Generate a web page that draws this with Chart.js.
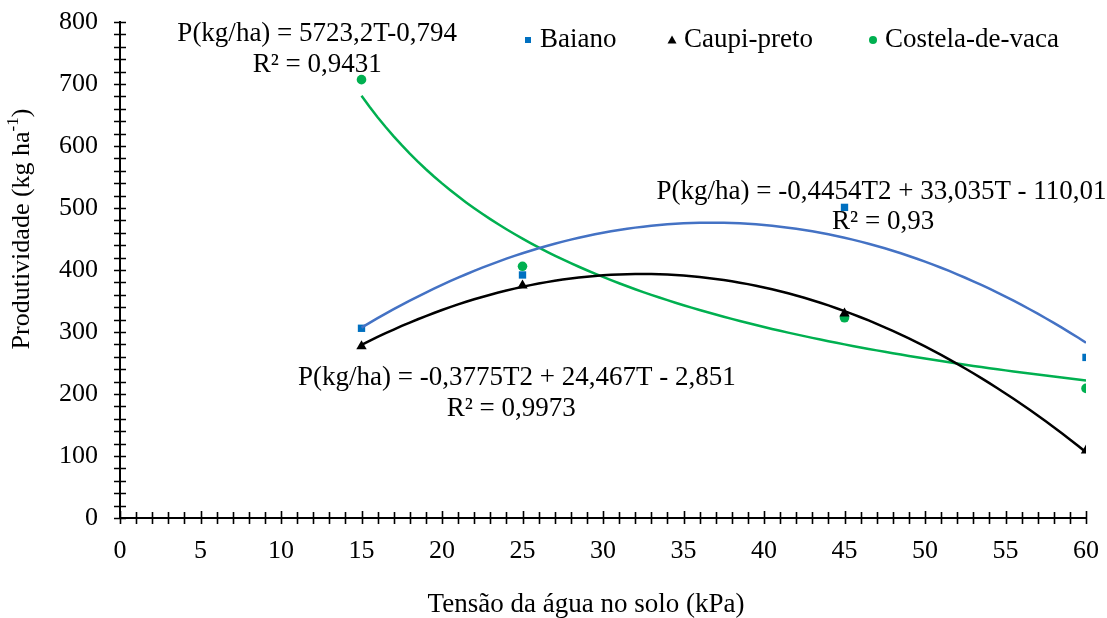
<!DOCTYPE html>
<html>
<head>
<meta charset="utf-8">
<script src="https://cdn.jsdelivr.net/npm/chart.js@4.4.1/dist/chart.umd.min.js"></script>
<style>
  html, body { margin: 0; padding: 0; background: #fff; }
</style>
</head>
<body>
<canvas id="chart" width="1107" height="618"></canvas>
<script>
// values
const tensions = [15, 25, 45, 60];
const baiano = [306, 392, 501, 259];
const caupiPreto = [277, 375, 330, 109];
const costelaDeVaca = [707, 406, 323, 209];

const xTickValues = [0, 5, 10, 15, 20, 25, 30, 35, 40, 45, 50, 55, 60];
const yTickValues = [0, 100, 200, 300, 400, 500, 600, 700, 800];

// trend lines (a*T^2 + b*T + c, and a*T^b for the power fit), as drawn
const trendBaiano = [-0.358, 26.31, -7.0];
const trendCaupi = [-0.3775, 24.467, -2.851];
const trendCostela = [6091, -0.809];

const FONT = "'Liberation Serif', 'Times New Roman', serif";
const BLUE = '#0070C0', BLUE_LINE = '#4472C4', GREEN = '#00B050', BLACK = '#000000';

// equation labels, anchored in data units (T, P)
const eqLabels = [
  { t: 12.25, p: 781, text: 'P(kg/ha) = 5723,2T-0,794' },
  { t: 12.25, p: 731, text: 'R² = 0,9431' },
  { t: 47.3, p: 526, text: 'P(kg/ha) = -0,4454T2 + 33,035T - 110,01' },
  { t: 47.4, p: 477, text: 'R² = 0,93' },
  { t: 24.65, p: 226, text: 'P(kg/ha) = -0,3775T2 + 24,467T - 2,851' },
  { t: 24.3, p: 176, text: 'R² = 0,9973' }
];

function points(values) {
  return tensions.map((t, i) => ({ x: t, y: values[i] }));
}

function trendPoints(fn) {
  const out = [];
  for (let t = 15; t <= 60.001; t += 0.5) out.push({ x: t, y: fn(t) });
  return out;
}

const quad = c => t => c[0] * t * t + c[1] * t + c[2];
const power = c => t => c[0] * Math.pow(t, c[1]);

const axisPlugin = {
  id: 'axisExtras',
  afterDraw(chart) {
    const ctx = chart.ctx;
    const x = chart.scales.x, y = chart.scales.y;
    const x0 = x.getPixelForValue(0), y0 = y.getPixelForValue(0);
    ctx.save();
    ctx.strokeStyle = BLACK;
    ctx.lineWidth = 1.6;
    ctx.beginPath();
    for (let v = 0; v <= 800; v += 20) {
      const py = Math.round(y.getPixelForValue(v)) + 0.5;
      ctx.moveTo(x0 - 6, py);
      ctx.lineTo(x0 + 6, py);
    }
    for (let v = 0; v <= 60; v += 1) {
      const px = Math.round(x.getPixelForValue(v)) + 0.5;
      const up = v % 5 === 0 ? 7 : 6;
      ctx.moveTo(px, y0 - up);
      ctx.lineTo(px, y0 + 6);
    }
    ctx.stroke();

    // equations
    ctx.fillStyle = BLACK;
    ctx.font = '27px ' + FONT;
    ctx.textAlign = 'center';
    ctx.textBaseline = 'middle';
    eqLabels.forEach(l => {
      ctx.fillText(l.text, x.getPixelForValue(l.t), y.getPixelForValue(l.p));
    });

    // legend
    const legend = [
      { label: 'Baiano', color: BLUE, shape: 'rect', mx: 528 },
      { label: 'Caupi-preto', color: BLACK, shape: 'triangle', mx: 672 },
      { label: 'Costela-de-vaca', color: GREEN, shape: 'circle', mx: 873 }
    ];
    const ly = 40;
    ctx.textAlign = 'left';
    legend.forEach(it => {
      ctx.fillStyle = it.color;
      ctx.beginPath();
      if (it.shape === 'rect') {
        ctx.rect(it.mx - 3, ly - 3, 6, 6);
      } else if (it.shape === 'triangle') {
        ctx.moveTo(it.mx, ly - 4.5);
        ctx.lineTo(it.mx + 4.5, ly + 3.5);
        ctx.lineTo(it.mx - 4.5, ly + 3.5);
        ctx.closePath();
      } else {
        ctx.arc(it.mx, ly, 4, 0, Math.PI * 2);
      }
      ctx.fill();
      ctx.fillStyle = BLACK;
      ctx.fillText(it.label, it.mx + 12, ly);
    });

    // x title
    ctx.textAlign = 'center';
    ctx.fillText('Tensão da água no solo (kPa)', 586, 605);

    // y title with superscript
    ctx.translate(22, 229);
    ctx.rotate(-Math.PI / 2);
    const main = 'Produtividade (kg ha';
    ctx.font = '26px ' + FONT;
    const wMain = ctx.measureText(main).width;
    ctx.font = '17px ' + FONT;
    const wSup = ctx.measureText('-1').width;
    ctx.font = '26px ' + FONT;
    const wEnd = ctx.measureText(')').width;
    let sx = -(wMain + wSup + wEnd) / 2;
    ctx.textAlign = 'left';
    ctx.fillText(main, sx, 0);
    sx += wMain;
    ctx.font = '17px ' + FONT;
    ctx.fillText('-1', sx, -8);
    sx += wSup;
    ctx.font = '26px ' + FONT;
    ctx.fillText(')', sx, 0);
    ctx.restore();
  }
};

const ctx = document.getElementById('chart').getContext('2d');
const chart = new Chart(ctx, {
  type: 'scatter',
  data: {
    datasets: [
      { label: 'Baiano trend', data: trendPoints(quad(trendBaiano)), showLine: true,
        borderColor: BLUE_LINE, borderWidth: 2.5, pointRadius: 0, fill: false },
      { label: 'Caupi-preto trend', data: trendPoints(quad(trendCaupi)), showLine: true,
        borderColor: BLACK, borderWidth: 2.5, pointRadius: 0, fill: false },
      { label: 'Costela-de-vaca trend', data: trendPoints(power(trendCostela)), showLine: true,
        borderColor: GREEN, borderWidth: 2.5, pointRadius: 0, fill: false },
      { label: 'Baiano', data: points(baiano), pointStyle: 'rect', pointRadius: 5.2,
        backgroundColor: BLUE, borderColor: BLUE, borderWidth: 0 },
      { label: 'Caupi-preto', data: points(caupiPreto), pointStyle: 'triangle', pointRadius: 6,
        backgroundColor: BLACK, borderColor: BLACK, borderWidth: 0 },
      { label: 'Costela-de-vaca', data: points(costelaDeVaca), pointStyle: 'circle', pointRadius: 4.8,
        backgroundColor: GREEN, borderColor: GREEN, borderWidth: 0 }
    ]
  },
  options: {
    responsive: false,
    animation: false,
    devicePixelRatio: 1,
    layout: { padding: { left: 0, right: 21, top: 22, bottom: 0 } },
    plugins: { legend: { display: false }, tooltip: { enabled: false } },
    scales: {
      x: {
        type: 'linear', min: 0, max: 60,
        afterBuildTicks: s => { s.ticks = xTickValues.map(v => ({ value: v })); },
        afterFit: s => { s.height = 100; s.paddingLeft = 0; s.paddingRight = 0; },
        ticks: { color: BLACK, font: { family: FONT, size: 26 }, padding: 18, maxRotation: 0 },
        grid: { display: false, drawTicks: false },
        border: { display: true, color: BLACK, width: 2 }
      },
      y: {
        type: 'linear', min: 0, max: 800,
        afterBuildTicks: s => { s.ticks = yTickValues.map(v => ({ value: v })); },
        afterFit: s => { s.width = 120; s.paddingTop = 0; s.paddingBottom = 0; },
        ticks: { color: BLACK, font: { family: FONT, size: 26 }, padding: 22 },
        grid: { display: false, drawTicks: false },
        border: { display: true, color: BLACK, width: 2 }
      }
    }
  },
  plugins: [axisPlugin]
});
</script>
</body>
</html>
